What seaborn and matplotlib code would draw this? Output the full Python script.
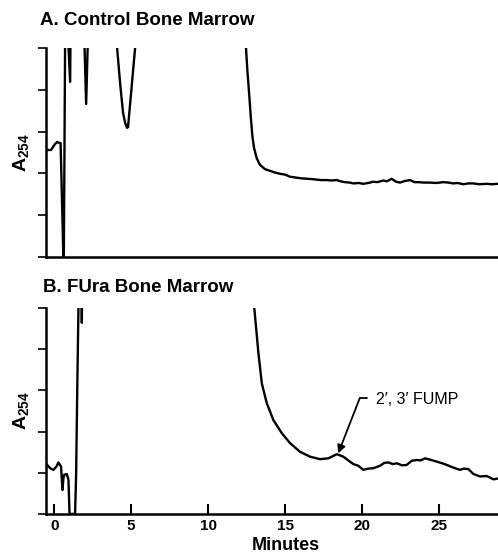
import matplotlib
matplotlib.use("Agg")
import matplotlib.pyplot as plt
import seaborn as sns
import numpy as np

# Trace A: control bone marrow (minutes, A254 in tick units; >5 = off scale)
minutes_a = [-0.54, -0.2, 0.05, 0.2, 0.42, 0.6, 0.63, 0.72, 0.86, 1.04, 1.07,
             1.93, 2.08, 2.22, 3.94, 4.09, 4.3, 4.48, 4.62, 4.74, 4.8, 5.26, 5.4,
             12.37, 12.47, 12.55, 12.68, 12.77, 12.88, 12.99, 13.16, 13.38, 13.7,
             14.03, 14.35, 14.68, 15.0, 15.32, 15.7, 16.08, 16.5, 16.84, 17.3,
             17.71, 18.0, 18.36, 18.6, 18.9, 19.2, 19.44, 19.8, 20.08, 20.4,
             20.73, 21.0, 21.38, 21.6, 21.93, 22.2, 22.47, 22.8, 23.12, 23.4,
             23.66, 24.0, 24.42, 24.8, 25.28, 25.6, 25.93, 26.2, 26.58, 26.9,
             27.23, 27.6, 28.1, 28.4, 28.83]
a254_a = [2.56, 2.56, 2.7, 2.75, 2.72, 0.0, 0.0, 5.6, 5.6, 4.19, 5.6,
          5.6, 3.66, 5.6, 5.6, 5.0, 4.1, 3.44, 3.2, 3.09, 3.11, 5.0, 5.6,
          5.6, 4.95, 4.47, 3.84, 3.36, 2.88, 2.6, 2.36, 2.2, 2.1,
          2.06, 2.02, 1.99, 1.97, 1.92, 1.9, 1.88, 1.87, 1.86, 1.84,
          1.84, 1.83, 1.84, 1.81, 1.79, 1.78, 1.76, 1.77, 1.75, 1.77,
          1.8, 1.79, 1.83, 1.81, 1.87, 1.8, 1.78, 1.82, 1.84, 1.79,
          1.79, 1.78, 1.78, 1.77, 1.79, 1.78, 1.76, 1.77, 1.74, 1.76,
          1.76, 1.74, 1.75, 1.74, 1.75]

# Trace B: FUra bone marrow
minutes_b = [-0.54, -0.26, -0.04, 0.15, 0.28, 0.45, 0.54, 0.6, 0.65, 0.82, 0.93,
             1.0, 1.36, 1.43, 1.51, 1.58, 1.62, 1.79, 1.8, 1.81,
             12.85, 13.0, 13.27, 13.49, 13.81, 14.24, 14.79, 15.32, 15.97,
             16.62, 17.27, 17.81, 18.36, 18.79, 19.1, 19.44, 19.76, 20.08,
             20.4, 20.73, 21.17, 21.45, 21.71, 22.0, 22.25, 22.6, 22.9, 23.22,
             23.55, 23.8, 24.09, 24.5, 24.85, 25.2, 25.5, 25.9, 26.36, 26.6,
             26.9, 27.23, 27.66, 28.1, 28.53, 28.83]
a254_b = [1.23, 1.11, 1.07, 1.15, 1.25, 1.15, 0.58, 0.85, 0.95, 0.97, 0.83,
          0.0, 0.0, 0.99, 3.25, 5.0, 5.6, 5.6, 4.64, 5.6,
          5.6, 5.0, 3.9, 3.17, 2.69, 2.28, 1.96, 1.72, 1.51,
          1.39, 1.33, 1.35, 1.45, 1.39, 1.3, 1.21, 1.17, 1.07,
          1.1, 1.11, 1.17, 1.24, 1.25, 1.21, 1.23, 1.18, 1.19, 1.29,
          1.31, 1.3, 1.35, 1.31, 1.27, 1.23, 1.19, 1.13, 1.07, 1.1,
          1.09, 0.97, 0.91, 0.92, 0.84, 0.86]

x_ticks = [0, 5, 10, 15, 20, 25]
y_ticks = [0, 1, 2, 3, 4, 5]

# FUMP peak annotation: arrow tip, bend, end of the short dash
fump_tip = (18.45, 1.47)
fump_bend = (19.85, 2.81)
fump_dash_end = 20.35

sns.set_style("white")
plt.rcParams['font.family'] = ['Liberation Sans', 'DejaVu Sans']
plt.rcParams['mathtext.fontset'] = 'custom'
plt.rcParams['mathtext.bf'] = 'Liberation Sans:bold'
plt.rcParams['mathtext.rm'] = 'Liberation Sans'
plt.rcParams['text.color'] = 'black'
plt.rcParams['axes.labelcolor'] = 'black'
plt.rcParams['xtick.color'] = 'black'
plt.rcParams['ytick.color'] = 'black'

fig = plt.figure(figsize=(4.98, 5.55), dpi=100)
ax_a = fig.add_axes([0.092, 0.537, 0.908, 0.3765])
ax_b = fig.add_axes([0.092, 0.074, 0.908, 0.371])

for ax, xs, ys in [(ax_a, minutes_a, a254_a), (ax_b, minutes_b, a254_b)]:
    sns.lineplot(x=xs, y=ys, ax=ax, sort=False, estimator=None,
                 color='black', linewidth=1.7)
    ax.set_xlim(-0.54, 28.83)
    ax.set_ylim(0, 5)
    ax.set_yticks(y_ticks)
    ax.set_yticklabels([])
    ax.tick_params(axis='y', direction='out', length=6, width=1.2, color='black', left=True)
    for s in ['top', 'right']:
        ax.spines[s].set_visible(False)
    for s in ['left', 'bottom']:
        ax.spines[s].set_color('black')
        ax.spines[s].set_linewidth(1.8)
    ax.set_ylabel(r'$\mathbf{A}_{\mathbf{254}}$', fontsize=14)
    ax.yaxis.set_label_coords(-0.03, 0.5)

ax_a.set_xticks([])
ax_b.set_xticks(x_ticks)
ax_b.set_xticklabels([str(t) for t in x_ticks], fontsize=11, fontweight='bold')
ax_b.tick_params(axis='x', direction='in', length=7, width=1.5, color='black',
                 bottom=True, pad=4)
ax_b.set_xlabel('Minutes', fontsize=13, fontweight='bold')
ax_b.xaxis.set_label_coords(0.53, -0.11)

fig.text(0.08, 0.955, 'A. Control Bone Marrow', fontsize=13.5, fontweight='bold')
fig.text(0.086, 0.474, 'B. FUra Bone Marrow', fontsize=13.5, fontweight='bold')

ax_b.plot([fump_bend[0], fump_dash_end], [fump_bend[1], fump_bend[1]],
          color='black', lw=1.3)
ax_b.annotate('', xy=fump_tip, xytext=fump_bend,
              arrowprops=dict(arrowstyle='-|>', color='black', lw=1.3,
                              shrinkA=0, shrinkB=0, mutation_scale=12))
ax_b.text(20.9, 2.78, '2\u2032, 3\u2032 FUMP', fontsize=11.5, va='center', ha='left')

fig.savefig('out.png', dpi=100)
